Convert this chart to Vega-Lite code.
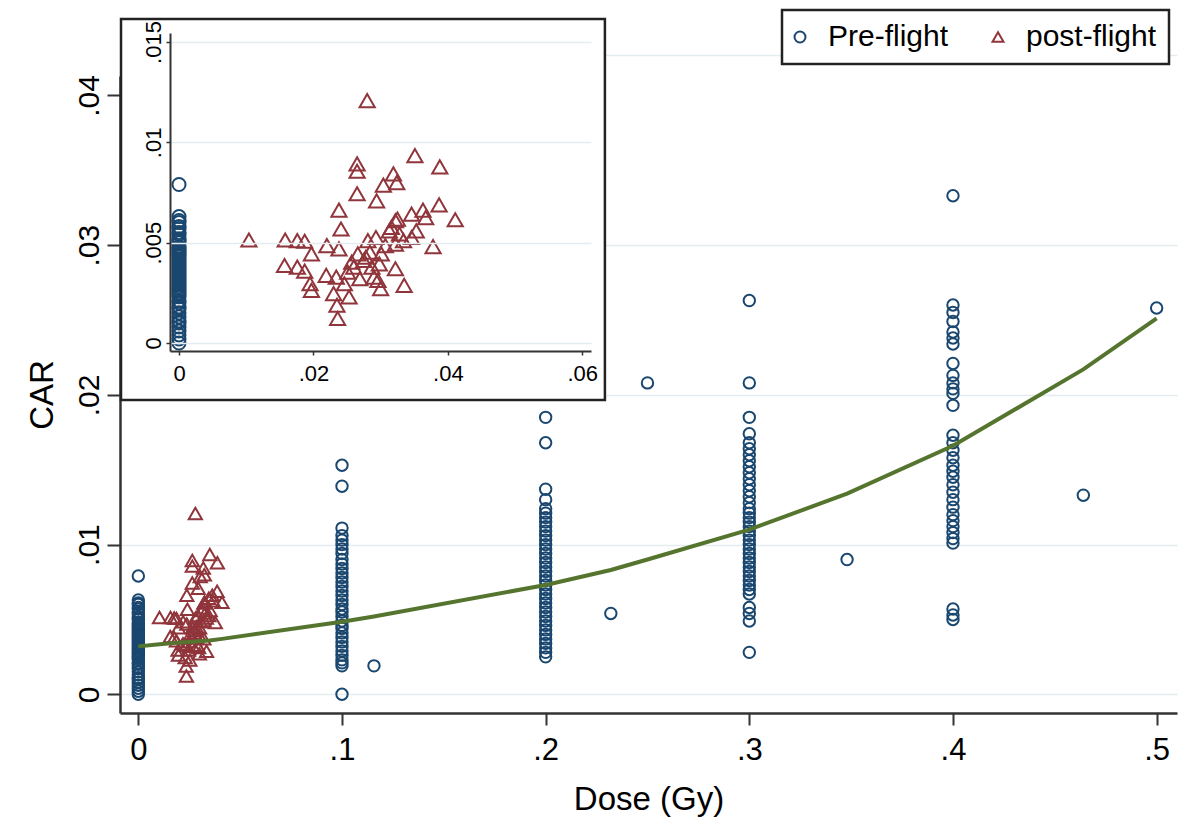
{
  "$schema": "https://vega.github.io/schema/vega-lite/v6.json",
  "width": 1057,
  "height": 637,
  "autosize": {"type": "none"},
  "padding": {"left": 120, "top": 76, "right": 1, "bottom": 110},
  "background": "white",
  "config": {
    "view": {"stroke": null},
    "font": "Liberation Sans",
    "axis": {"labelFont": "Liberation Sans", "titleFont": "Liberation Sans", "labelColor": "#000", "titleColor": "#000", "titleFontWeight": "normal", "labelFlush": false, "labelOverlap": false},
    "legend": {"orient": "none", "legendX": 662, "legendY": -66, "direction": "horizontal", "title": null, "strokeColor": "#222", "strokeWidth": 2.5, "fillColor": "white", "padding": 12, "labelFont": "Liberation Sans", "labelFontSize": 30, "labelColor": "#000", "symbolSize": 120, "symbolStrokeWidth": 2, "symbolOffset": -9, "labelOffset": 13, "columnPadding": 39, "labelLimit": 400}
  },
  "datasets": {
    "pts": [
      {"group":"Pre-flight","dose":0,"car":0},{"group":"Pre-flight","dose":0,"car":0.0002},{"group":"Pre-flight","dose":0,"car":0.0004},{"group":"Pre-flight","dose":0,"car":0.0006},{"group":"Pre-flight","dose":0,"car":0.0008},{"group":"Pre-flight","dose":0,"car":0.001},{"group":"Pre-flight","dose":0,"car":0.0011},{"group":"Pre-flight","dose":0,"car":0.0013},{"group":"Pre-flight","dose":0,"car":0.0015},{"group":"Pre-flight","dose":0,"car":0.0017},{"group":"Pre-flight","dose":0,"car":0.0018},{"group":"Pre-flight","dose":0,"car":0.002},{"group":"Pre-flight","dose":0,"car":0.0021},{"group":"Pre-flight","dose":0,"car":0.0023},{"group":"Pre-flight","dose":0,"car":0.0024},{"group":"Pre-flight","dose":0,"car":0.0025},{"group":"Pre-flight","dose":0,"car":0.0026},{"group":"Pre-flight","dose":0,"car":0.0027},{"group":"Pre-flight","dose":0,"car":0.0028},{"group":"Pre-flight","dose":0,"car":0.0029},{"group":"Pre-flight","dose":0,"car":0.003},{"group":"Pre-flight","dose":0,"car":0.0031},{"group":"Pre-flight","dose":0,"car":0.0032},{"group":"Pre-flight","dose":0,"car":0.0033},{"group":"Pre-flight","dose":0,"car":0.0034},{"group":"Pre-flight","dose":0,"car":0.0035},{"group":"Pre-flight","dose":0,"car":0.0036},{"group":"Pre-flight","dose":0,"car":0.0037},{"group":"Pre-flight","dose":0,"car":0.0038},{"group":"Pre-flight","dose":0,"car":0.0039},{"group":"Pre-flight","dose":0,"car":0.004},{"group":"Pre-flight","dose":0,"car":0.0041},{"group":"Pre-flight","dose":0,"car":0.0042},{"group":"Pre-flight","dose":0,"car":0.0043},{"group":"Pre-flight","dose":0,"car":0.0044},{"group":"Pre-flight","dose":0,"car":0.0045},{"group":"Pre-flight","dose":0,"car":0.0046},{"group":"Pre-flight","dose":0,"car":0.0047},{"group":"Pre-flight","dose":0,"car":0.0048},{"group":"Pre-flight","dose":0,"car":0.005},{"group":"Pre-flight","dose":0,"car":0.0051},{"group":"Pre-flight","dose":0,"car":0.0052},{"group":"Pre-flight","dose":0,"car":0.0054},{"group":"Pre-flight","dose":0,"car":0.0055},{"group":"Pre-flight","dose":0,"car":0.0057},{"group":"Pre-flight","dose":0,"car":0.0058},{"group":"Pre-flight","dose":0,"car":0.006},{"group":"Pre-flight","dose":0,"car":0.0061},{"group":"Pre-flight","dose":0,"car":0.0063},{"group":"Pre-flight","dose":0,"car":0.0079},
      {"group":"Pre-flight","dose":0.1,"car":0},{"group":"Pre-flight","dose":0.1,"car":0.0019},{"group":"Pre-flight","dose":0.1,"car":0.0021},{"group":"Pre-flight","dose":0.1,"car":0.0023},{"group":"Pre-flight","dose":0.1,"car":0.0026},{"group":"Pre-flight","dose":0.1,"car":0.0029},{"group":"Pre-flight","dose":0.1,"car":0.0032},{"group":"Pre-flight","dose":0.1,"car":0.0035},{"group":"Pre-flight","dose":0.1,"car":0.0038},{"group":"Pre-flight","dose":0.1,"car":0.0041},{"group":"Pre-flight","dose":0.1,"car":0.0044},{"group":"Pre-flight","dose":0.1,"car":0.0046},{"group":"Pre-flight","dose":0.1,"car":0.0049},{"group":"Pre-flight","dose":0.1,"car":0.0052},{"group":"Pre-flight","dose":0.1,"car":0.0055},{"group":"Pre-flight","dose":0.1,"car":0.0057},{"group":"Pre-flight","dose":0.1,"car":0.006},{"group":"Pre-flight","dose":0.1,"car":0.0063},{"group":"Pre-flight","dose":0.1,"car":0.0066},{"group":"Pre-flight","dose":0.1,"car":0.0069},{"group":"Pre-flight","dose":0.1,"car":0.0072},{"group":"Pre-flight","dose":0.1,"car":0.0075},{"group":"Pre-flight","dose":0.1,"car":0.0078},{"group":"Pre-flight","dose":0.1,"car":0.0081},{"group":"Pre-flight","dose":0.1,"car":0.0084},{"group":"Pre-flight","dose":0.1,"car":0.0087},{"group":"Pre-flight","dose":0.1,"car":0.009},{"group":"Pre-flight","dose":0.1,"car":0.0094},{"group":"Pre-flight","dose":0.1,"car":0.0097},{"group":"Pre-flight","dose":0.1,"car":0.01},{"group":"Pre-flight","dose":0.1,"car":0.0103},{"group":"Pre-flight","dose":0.1,"car":0.0106},{"group":"Pre-flight","dose":0.1,"car":0.0111},{"group":"Pre-flight","dose":0.1,"car":0.0139},{"group":"Pre-flight","dose":0.1,"car":0.0153},
      {"group":"Pre-flight","dose":0.1157,"car":0.0019},
      {"group":"Pre-flight","dose":0.2,"car":0.0025},{"group":"Pre-flight","dose":0.2,"car":0.0028},{"group":"Pre-flight","dose":0.2,"car":0.0031},{"group":"Pre-flight","dose":0.2,"car":0.0034},{"group":"Pre-flight","dose":0.2,"car":0.0037},{"group":"Pre-flight","dose":0.2,"car":0.004},{"group":"Pre-flight","dose":0.2,"car":0.0043},{"group":"Pre-flight","dose":0.2,"car":0.0046},{"group":"Pre-flight","dose":0.2,"car":0.0049},{"group":"Pre-flight","dose":0.2,"car":0.0052},{"group":"Pre-flight","dose":0.2,"car":0.0055},{"group":"Pre-flight","dose":0.2,"car":0.0058},{"group":"Pre-flight","dose":0.2,"car":0.0061},{"group":"Pre-flight","dose":0.2,"car":0.0064},{"group":"Pre-flight","dose":0.2,"car":0.0067},{"group":"Pre-flight","dose":0.2,"car":0.007},{"group":"Pre-flight","dose":0.2,"car":0.0073},{"group":"Pre-flight","dose":0.2,"car":0.0076},{"group":"Pre-flight","dose":0.2,"car":0.0079},{"group":"Pre-flight","dose":0.2,"car":0.0082},{"group":"Pre-flight","dose":0.2,"car":0.0085},{"group":"Pre-flight","dose":0.2,"car":0.0088},{"group":"Pre-flight","dose":0.2,"car":0.0091},{"group":"Pre-flight","dose":0.2,"car":0.0094},{"group":"Pre-flight","dose":0.2,"car":0.0097},{"group":"Pre-flight","dose":0.2,"car":0.01},{"group":"Pre-flight","dose":0.2,"car":0.0103},{"group":"Pre-flight","dose":0.2,"car":0.0106},{"group":"Pre-flight","dose":0.2,"car":0.0109},{"group":"Pre-flight","dose":0.2,"car":0.0112},{"group":"Pre-flight","dose":0.2,"car":0.0115},{"group":"Pre-flight","dose":0.2,"car":0.0118},{"group":"Pre-flight","dose":0.2,"car":0.0121},{"group":"Pre-flight","dose":0.2,"car":0.0124},{"group":"Pre-flight","dose":0.2,"car":0.013},{"group":"Pre-flight","dose":0.2,"car":0.0137},{"group":"Pre-flight","dose":0.2,"car":0.0168},{"group":"Pre-flight","dose":0.2,"car":0.0185},
      {"group":"Pre-flight","dose":0.232,"car":0.0054},{"group":"Pre-flight","dose":0.25,"car":0.0208},
      {"group":"Pre-flight","dose":0.3,"car":0.0028},{"group":"Pre-flight","dose":0.3,"car":0.0049},{"group":"Pre-flight","dose":0.3,"car":0.0054},{"group":"Pre-flight","dose":0.3,"car":0.0058},{"group":"Pre-flight","dose":0.3,"car":0.0067},{"group":"Pre-flight","dose":0.3,"car":0.007},{"group":"Pre-flight","dose":0.3,"car":0.0073},{"group":"Pre-flight","dose":0.3,"car":0.0076},{"group":"Pre-flight","dose":0.3,"car":0.0079},{"group":"Pre-flight","dose":0.3,"car":0.0082},{"group":"Pre-flight","dose":0.3,"car":0.0085},{"group":"Pre-flight","dose":0.3,"car":0.0088},{"group":"Pre-flight","dose":0.3,"car":0.0091},{"group":"Pre-flight","dose":0.3,"car":0.0094},{"group":"Pre-flight","dose":0.3,"car":0.0097},{"group":"Pre-flight","dose":0.3,"car":0.01},{"group":"Pre-flight","dose":0.3,"car":0.0103},{"group":"Pre-flight","dose":0.3,"car":0.0106},{"group":"Pre-flight","dose":0.3,"car":0.0109},{"group":"Pre-flight","dose":0.3,"car":0.0112},{"group":"Pre-flight","dose":0.3,"car":0.0115},{"group":"Pre-flight","dose":0.3,"car":0.0118},{"group":"Pre-flight","dose":0.3,"car":0.0121},{"group":"Pre-flight","dose":0.3,"car":0.0124},{"group":"Pre-flight","dose":0.3,"car":0.0128},{"group":"Pre-flight","dose":0.3,"car":0.0132},{"group":"Pre-flight","dose":0.3,"car":0.0136},{"group":"Pre-flight","dose":0.3,"car":0.014},{"group":"Pre-flight","dose":0.3,"car":0.0144},{"group":"Pre-flight","dose":0.3,"car":0.0148},{"group":"Pre-flight","dose":0.3,"car":0.0152},{"group":"Pre-flight","dose":0.3,"car":0.0156},{"group":"Pre-flight","dose":0.3,"car":0.016},{"group":"Pre-flight","dose":0.3,"car":0.0164},{"group":"Pre-flight","dose":0.3,"car":0.0168},{"group":"Pre-flight","dose":0.3,"car":0.0174},{"group":"Pre-flight","dose":0.3,"car":0.0185},{"group":"Pre-flight","dose":0.3,"car":0.0208},{"group":"Pre-flight","dose":0.3,"car":0.0263},
      {"group":"Pre-flight","dose":0.348,"car":0.009},
      {"group":"Pre-flight","dose":0.4,"car":0.005},{"group":"Pre-flight","dose":0.4,"car":0.0053},{"group":"Pre-flight","dose":0.4,"car":0.0057},{"group":"Pre-flight","dose":0.4,"car":0.0101},{"group":"Pre-flight","dose":0.4,"car":0.0104},{"group":"Pre-flight","dose":0.4,"car":0.0108},{"group":"Pre-flight","dose":0.4,"car":0.0112},{"group":"Pre-flight","dose":0.4,"car":0.0116},{"group":"Pre-flight","dose":0.4,"car":0.012},{"group":"Pre-flight","dose":0.4,"car":0.0125},{"group":"Pre-flight","dose":0.4,"car":0.013},{"group":"Pre-flight","dose":0.4,"car":0.0135},{"group":"Pre-flight","dose":0.4,"car":0.014},{"group":"Pre-flight","dose":0.4,"car":0.0145},{"group":"Pre-flight","dose":0.4,"car":0.0149},{"group":"Pre-flight","dose":0.4,"car":0.0153},{"group":"Pre-flight","dose":0.4,"car":0.0158},{"group":"Pre-flight","dose":0.4,"car":0.0163},{"group":"Pre-flight","dose":0.4,"car":0.0168},{"group":"Pre-flight","dose":0.4,"car":0.0173},{"group":"Pre-flight","dose":0.4,"car":0.0193},{"group":"Pre-flight","dose":0.4,"car":0.0201},{"group":"Pre-flight","dose":0.4,"car":0.0204},{"group":"Pre-flight","dose":0.4,"car":0.0208},{"group":"Pre-flight","dose":0.4,"car":0.0213},{"group":"Pre-flight","dose":0.4,"car":0.0221},{"group":"Pre-flight","dose":0.4,"car":0.0234},{"group":"Pre-flight","dose":0.4,"car":0.0238},{"group":"Pre-flight","dose":0.4,"car":0.0242},{"group":"Pre-flight","dose":0.4,"car":0.0249},{"group":"Pre-flight","dose":0.4,"car":0.0255},{"group":"Pre-flight","dose":0.4,"car":0.026},{"group":"Pre-flight","dose":0.4,"car":0.0333},
      {"group":"Pre-flight","dose":0.464,"car":0.0133},{"group":"Pre-flight","dose":0.5,"car":0.0258},
      {"group":"post-flight","dose":0.028,"car":0.01208},{"group":"post-flight","dose":0.0351,"car":0.00934},{"group":"post-flight","dose":0.0388,"car":0.00878},{"group":"post-flight","dose":0.0265,"car":0.00893},{"group":"post-flight","dose":0.0265,"car":0.00856},{"group":"post-flight","dose":0.0319,"car":0.00843},{"group":"post-flight","dose":0.0304,"car":0.00787},{"group":"post-flight","dose":0.0324,"car":0.00799},{"group":"post-flight","dose":0.0265,"car":0.00744},{"group":"post-flight","dose":0.0294,"car":0.00708},{"group":"post-flight","dose":0.0238,"car":0.00662},{"group":"post-flight","dose":0.0387,"car":0.00688},{"group":"post-flight","dose":0.0363,"car":0.00662},{"group":"post-flight","dose":0.0411,"car":0.00614},{"group":"post-flight","dose":0.0346,"car":0.00642},{"group":"post-flight","dose":0.0367,"car":0.00625},{"group":"post-flight","dose":0.0322,"car":0.00609},{"group":"post-flight","dose":0.0241,"car":0.00568},{"group":"post-flight","dose":0.0104,"car":0.00513},{"group":"post-flight","dose":0.0158,"car":0.00513},{"group":"post-flight","dose":0.0176,"car":0.0051},{"group":"post-flight","dose":0.0187,"car":0.00507},{"group":"post-flight","dose":0.022,"car":0.00485},{"group":"post-flight","dose":0.0238,"car":0.00469},{"group":"post-flight","dose":0.0197,"car":0.00444},{"group":"post-flight","dose":0.0157,"car":0.00386},{"group":"post-flight","dose":0.0176,"car":0.00378},{"group":"post-flight","dose":0.0187,"car":0.00358},{"group":"post-flight","dose":0.0195,"car":0.00295},{"group":"post-flight","dose":0.0197,"car":0.00262},{"group":"post-flight","dose":0.0219,"car":0.00337},{"group":"post-flight","dose":0.0234,"car":0.00328},{"group":"post-flight","dose":0.023,"car":0.00246},{"group":"post-flight","dose":0.0253,"car":0.00229},{"group":"post-flight","dose":0.0235,"car":0.00188},{"group":"post-flight","dose":0.0236,"car":0.00122},{"group":"post-flight","dose":0.0322,"car":0.0037},{"group":"post-flight","dose":0.0335,"car":0.00287},{"group":"post-flight","dose":0.03,"car":0.00271},{"group":"post-flight","dose":0.0378,"car":0.0048},{"group":"post-flight","dose":0.0346,"car":0.00526},{"group":"post-flight","dose":0.0353,"car":0.00559},{"group":"post-flight","dose":0.0328,"car":0.00543},{"group":"post-flight","dose":0.0313,"car":0.00559},{"group":"post-flight","dose":0.0293,"car":0.00526},{"group":"post-flight","dose":0.0281,"car":0.0051},{"group":"post-flight","dose":0.0266,"car":0.00444},{"group":"post-flight","dose":0.0275,"car":0.00411},{"group":"post-flight","dose":0.0287,"car":0.00378},{"group":"post-flight","dose":0.026,"car":0.00378},{"group":"post-flight","dose":0.0269,"car":0.0032},{"group":"post-flight","dose":0.029,"car":0.00328},{"group":"post-flight","dose":0.0301,"car":0.00444},{"group":"post-flight","dose":0.0307,"car":0.00485},{"group":"post-flight","dose":0.0284,"car":0.00452},{"group":"post-flight","dose":0.0257,"car":0.00403},{"group":"post-flight","dose":0.0298,"car":0.00394},{"group":"post-flight","dose":0.0334,"car":0.0051},{"group":"post-flight","dose":0.0322,"car":0.00493},{"group":"post-flight","dose":0.0251,"car":0.00353},{"group":"post-flight","dose":0.0296,"car":0.00312},{"group":"post-flight","dose":0.0325,"car":0.00617},{"group":"post-flight","dose":0.0316,"car":0.00576},{"group":"post-flight","dose":0.0278,"car":0.00427},{"group":"post-flight","dose":0.0246,"car":0.00295}
    ],
    "fit": [
      {"dose":0,"car":0.0032},{"dose":0.0104,"car":0.00334},{"dose":0.0158,"car":0.0034},{"dose":0.02,"car":0.00345},{"dose":0.025,"car":0.0035},{"dose":0.03,"car":0.00355},{"dose":0.035,"car":0.0036},{"dose":0.0411,"car":0.0037},{"dose":0.1,"car":0.00484},{"dose":0.1157,"car":0.0052},{"dose":0.2,"car":0.0073},{"dose":0.232,"car":0.0083},{"dose":0.25,"car":0.009},{"dose":0.3,"car":0.011},{"dose":0.348,"car":0.0134},{"dose":0.4,"car":0.0166},{"dose":0.464,"car":0.0217},{"dose":0.5,"car":0.0251}
    ]
  },
  "layer": [
    {
      "data": {"name": "pts"},
      "mark": {"type": "point", "filled": false, "strokeWidth": 2, "opacity": 1},
      "encoding": {
        "x": {"field": "dose", "type": "quantitative", "scale": {"domain": [-0.009, 0.51], "nice": false, "zero": false},
          "axis": {"orient": "bottom", "values": [0, 0.1, 0.2, 0.3, 0.4, 0.5], "labelExpr": "replace(toString(datum.value), '0.', '.')", "title": "Dose (Gy)", "titleFontSize": 33, "labelFontSize": 31, "tickSize": 12, "tickWidth": 2, "tickColor": "#333", "domainColor": "#333", "domainWidth": 2.5, "grid": false, "labelPadding": 10, "titlePadding": 18}},
        "y": {"field": "car", "type": "quantitative", "scale": {"domain": [-0.00125, 0.0413], "nice": false, "zero": false},
          "axis": {"orient": "left", "values": [0, 0.01, 0.02, 0.03, 0.04], "labelExpr": "replace(toString(datum.value), '0.', '.')", "labelAngle": -90, "labelAlign": "center", "labelBaseline": "alphabetic", "labelFontSize": 30, "labelPadding": 9, "tickSize": 13, "tickWidth": 2, "tickColor": "#333", "domainColor": "#333", "domainWidth": 2.5, "grid": false, "title": "CAR", "titleFontSize": 33, "titlePadding": 15}},
        "color": {"field": "group", "type": "nominal", "scale": {"domain": ["Pre-flight", "post-flight"], "range": ["#1a476f", "#90353b"]}},
        "shape": {"field": "group", "type": "nominal", "scale": {"domain": ["Pre-flight", "post-flight"], "range": ["circle", "triangle-up"]}},
        "size": {"field": "group", "type": "nominal", "scale": {"domain": ["Pre-flight", "post-flight"], "range": [130, 175]}, "legend": null}
      }
    },
    {
      "data": {"name": "fit"},
      "mark": {"type": "line", "color": "#55752f", "strokeWidth": 4},
      "encoding": {
        "x": {"field": "dose", "type": "quantitative", "scale": {"domain": [-0.009, 0.51], "nice": false, "zero": false}, "axis": null},
        "y": {"field": "car", "type": "quantitative", "scale": {"domain": [-0.00125, 0.0441], "range": [637, -42], "nice": false, "zero": false},
          "axis": {"orient": "left", "values": [0, 0.01, 0.02, 0.03, 0.0427], "grid": true, "gridColor": "#e3ecef", "gridWidth": 1.5, "labels": false, "ticks": false, "domain": false, "title": null}}
      }
    },
    {
      "layer": [
        {
          "data": {"values": [{}]},
          "mark": {"type": "rect", "fill": "white", "stroke": "#222", "strokeWidth": 2.5},
          "encoding": {
            "x": {"datum": -0.00863, "type": "quantitative", "scale": {"domain": [-0.00134, 0.0613], "range": [50, 471], "nice": false, "zero": false},
              "axis": {"orient": "bottom", "offset": -362, "values": [0, 0.02, 0.04, 0.06], "labelExpr": "replace(toString(datum.value), '0.', '.')", "labelFontSize": 22, "tickSize": 4, "tickWidth": 1.5, "tickColor": "#333", "domainColor": "#333", "domainWidth": 2, "labelPadding": 8, "grid": false, "title": null, "zindex": 1}},
            "x2": {"datum": 0.06337},
            "y": {"datum": 0.01615, "type": "quantitative", "scale": {"domain": [-0.0004, 0.01545], "range": [275, -43], "nice": false, "zero": false},
              "axis": {"orient": "left", "offset": -50, "values": [0, 0.005, 0.01, 0.015], "labelExpr": "replace(toString(datum.value), '0.', '.')", "labelAngle": -90, "labelAlign": "center", "labelBaseline": "alphabetic", "labelFontSize": 22, "labelPadding": 6, "tickSize": 4, "tickWidth": 1.5, "tickColor": "#333", "domainColor": "#333", "domainWidth": 2, "grid": true, "gridColor": "#e3ecef", "gridWidth": 1.5, "title": null, "zindex": 1}},
            "y2": {"datum": -0.00284}
          }
        },
        {
          "data": {"name": "pts"},
          "transform": [{"filter": "datum.dose <= 0.06"}],
          "mark": {"type": "point", "filled": false, "strokeWidth": 2, "opacity": 1},
          "encoding": {
            "x": {"field": "dose", "type": "quantitative"},
            "y": {"field": "car", "type": "quantitative"},
            "color": {"field": "group", "type": "nominal"},
            "shape": {"field": "group", "type": "nominal"},
            "size": {"field": "group", "type": "nominal", "scale": {"domain": ["Pre-flight", "post-flight"], "range": [170, 230]}, "legend": null}
          }
        }
      ]
    }
  ],
  "resolve": {"scale": {"x": "independent", "y": "independent", "size": "independent"}, "axis": {"x": "independent", "y": "independent"}}
}
